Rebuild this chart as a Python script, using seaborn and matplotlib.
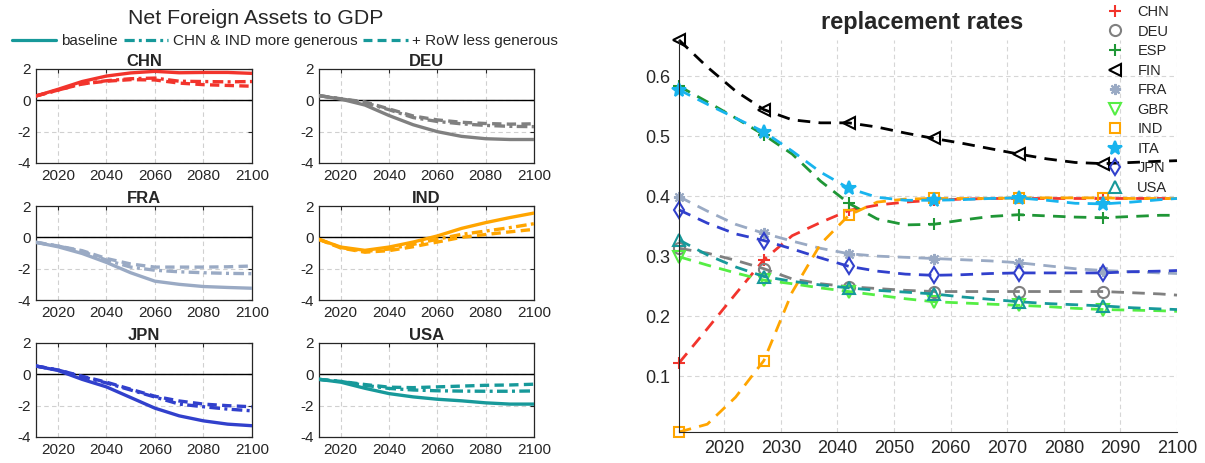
import numpy as np
import pandas as pd
import matplotlib
matplotlib.use("Agg")
import matplotlib.pyplot as plt
from matplotlib.lines import Line2D
import seaborn as sns

sns.set_style("white")
plt.rcParams["font.family"] = ["Liberation Sans", "DejaVu Sans"]
plt.rcParams["axes.edgecolor"] = "#262626"
plt.rcParams["xtick.color"] = "#262626"
plt.rcParams["ytick.color"] = "#262626"
plt.rcParams["axes.unicode_minus"] = False

# ---------------- Net foreign assets to GDP ----------------
nfa_years = [2011, 2020, 2030, 2040, 2050, 2060, 2070, 2080, 2090, 2100]
scenarios = ["baseline", "CHN & IND more generous", "+ RoW less generous"]
nfa_countries = ["CHN", "DEU", "FRA", "IND", "JPN", "USA"]

chn_base = [0.28, 0.70, 1.20, 1.55, 1.75, 1.85, 1.76, 1.78, 1.78, 1.72]
chn_gen = [0.28, 0.65, 1.05, 1.25, 1.38, 1.42, 1.22, 1.20, 1.18, 1.20]
chn_row = [0.28, 0.65, 1.05, 1.22, 1.32, 1.30, 1.10, 1.00, 0.95, 0.90]

deu_base = [0.30, 0.08, -0.30, -0.97, -1.56, -2.00, -2.30, -2.45, -2.50, -2.50]
deu_gen = [0.30, 0.10, -0.15, -0.60, -1.10, -1.35, -1.50, -1.60, -1.66, -1.68]
deu_row = [0.30, 0.10, -0.10, -0.55, -1.00, -1.25, -1.40, -1.48, -1.52, -1.50]

fra_base = [-0.32, -0.60, -1.03, -1.60, -2.26, -2.80, -3.00, -3.14, -3.20, -3.25]
fra_gen = [-0.32, -0.55, -0.90, -1.45, -1.90, -2.10, -2.20, -2.26, -2.30, -2.32]
fra_row = [-0.32, -0.55, -0.85, -1.35, -1.70, -1.90, -1.90, -1.90, -1.88, -1.83]

ind_base = [-0.13, -0.62, -0.83, -0.62, -0.30, 0.09, 0.57, 0.94, 1.26, 1.55]
ind_gen = [-0.13, -0.65, -0.90, -0.75, -0.45, -0.12, 0.19, 0.40, 0.62, 0.87]
ind_row = [-0.13, -0.68, -0.95, -0.85, -0.60, -0.30, 0.00, 0.18, 0.35, 0.51]

jpn_base = [0.53, 0.25, -0.32, -0.80, -1.48, -2.16, -2.65, -2.97, -3.18, -3.28]
jpn_gen = [0.53, 0.28, -0.15, -0.55, -1.00, -1.45, -1.90, -2.07, -2.22, -2.33]
jpn_row = [0.53, 0.28, -0.12, -0.50, -0.95, -1.40, -1.70, -1.90, -2.00, -2.07]

usa_base = [-0.32, -0.50, -0.89, -1.23, -1.44, -1.59, -1.69, -1.82, -1.90, -1.90]
usa_gen = [-0.32, -0.45, -0.70, -0.90, -1.00, -1.05, -1.07, -1.08, -1.08, -1.06]
usa_row = [-0.32, -0.45, -0.65, -0.82, -0.85, -0.80, -0.75, -0.70, -0.68, -0.63]

nfa_series = {
    "CHN": (chn_base, chn_gen, chn_row),
    "DEU": (deu_base, deu_gen, deu_row),
    "FRA": (fra_base, fra_gen, fra_row),
    "IND": (ind_base, ind_gen, ind_row),
    "JPN": (jpn_base, jpn_gen, jpn_row),
    "USA": (usa_base, usa_gen, usa_row),
}

# ---------------- replacement rates ----------------
rr_years = [2012, 2017, 2022, 2027, 2032, 2037, 2042, 2047, 2052, 2057,
            2062, 2067, 2072, 2077, 2082, 2087, 2092, 2097, 2100]
rr_countries = ["CHN", "DEU", "ESP", "FIN", "FRA", "GBR", "IND", "ITA", "JPN", "USA"]

rr_chn = [0.122, 0.179, 0.237, 0.294, 0.334, 0.356, 0.376, 0.385, 0.390, 0.393,
          0.395, 0.396, 0.396, 0.396, 0.396, 0.396, 0.396, 0.396, 0.396]
rr_deu = [0.313, 0.305, 0.293, 0.279, 0.262, 0.254, 0.249, 0.246, 0.243, 0.241,
          0.241, 0.241, 0.241, 0.241, 0.241, 0.241, 0.239, 0.237, 0.235]
rr_esp = [0.583, 0.557, 0.530, 0.502, 0.470, 0.425, 0.388, 0.362, 0.352, 0.353,
          0.360, 0.366, 0.369, 0.367, 0.365, 0.364, 0.366, 0.368, 0.368]
rr_fin = [0.660, 0.615, 0.575, 0.544, 0.527, 0.522, 0.522, 0.515, 0.505, 0.496,
          0.488, 0.479, 0.470, 0.462, 0.456, 0.454, 0.456, 0.458, 0.459]
rr_fra = [0.399, 0.375, 0.353, 0.338, 0.325, 0.313, 0.304, 0.300, 0.298, 0.296,
          0.294, 0.292, 0.289, 0.284, 0.279, 0.276, 0.274, 0.272, 0.271]
rr_gbr = [0.299, 0.285, 0.272, 0.260, 0.254, 0.247, 0.241, 0.235, 0.229, 0.224,
          0.222, 0.220, 0.218, 0.216, 0.213, 0.211, 0.210, 0.209, 0.208]
rr_ind = [0.007, 0.020, 0.065, 0.126, 0.240, 0.320, 0.368, 0.390, 0.395, 0.396,
          0.396, 0.396, 0.397, 0.397, 0.397, 0.397, 0.396, 0.396, 0.396]
rr_ita = [0.577, 0.553, 0.530, 0.507, 0.475, 0.440, 0.413, 0.398, 0.393, 0.393,
          0.394, 0.396, 0.397, 0.393, 0.388, 0.387, 0.390, 0.394, 0.396]
rr_jpn = [0.377, 0.355, 0.337, 0.326, 0.312, 0.297, 0.283, 0.275, 0.270, 0.268,
          0.269, 0.271, 0.272, 0.272, 0.272, 0.272, 0.274, 0.275, 0.276]
rr_usa = [0.327, 0.302, 0.282, 0.266, 0.258, 0.252, 0.247, 0.243, 0.240, 0.237,
          0.232, 0.228, 0.224, 0.221, 0.219, 0.217, 0.214, 0.212, 0.211]

rr_series = {"CHN": rr_chn, "DEU": rr_deu, "ESP": rr_esp, "FIN": rr_fin, "FRA": rr_fra,
             "GBR": rr_gbr, "IND": rr_ind, "ITA": rr_ita, "JPN": rr_jpn, "USA": rr_usa}

colors = {"CHN": "#f2342c", "DEU": "#808080", "ESP": "#1f9636", "FIN": "#000000",
          "FRA": "#9aaac4", "GBR": "#55ee44", "IND": "#ffa500", "ITA": "#18b4ee",
          "JPN": "#3140cc", "USA": "#17999a"}
markers = {"CHN": "+", "DEU": "o", "ESP": "+", "FIN": "<", "FRA": (8, 2, 0),
           "GBR": "v", "IND": "s", "ITA": "*", "JPN": "d", "USA": "^"}
marker_sizes = {"CHN": 9, "DEU": 8, "ESP": 9, "FIN": 8, "FRA": 8,
                "GBR": 8, "IND": 7, "ITA": 10, "JPN": 8, "USA": 8}
filled = {"ITA"}

scenario_dashes = {"baseline": "", "CHN & IND more generous": (3.2, 1.3, 0.9, 1.3),
                   "+ RoW less generous": (2.8, 1.6)}

W, H = 1205, 463
fig = plt.figure(figsize=(W / 100, H / 100), dpi=100)


def frac_box(left, top, right, bottom):
    return [left / W, 1 - bottom / H, (right - left) / W, (bottom - top) / H]


col_x = [(36, 252), (319, 534)]
row_y = [(69, 163), (206, 300), (343, 437)]

for i, country in enumerate(nfa_countries):
    r, c = divmod(i, 2)
    ax = fig.add_axes(frac_box(col_x[c][0], row_y[r][0], col_x[c][1], row_y[r][1]))
    frames = []
    for scen, vals in zip(scenarios, nfa_series[country]):
        frames.append(pd.DataFrame({"year": nfa_years, "value": vals, "scenario": scen}))
    df = pd.concat(frames, ignore_index=True)
    ax.axhline(0, color="black", lw=1.0, zorder=1)
    sns.lineplot(data=df, x="year", y="value", style="scenario", dashes=scenario_dashes,
                 color=colors[country], linewidth=2.4, legend=False, ax=ax, zorder=3)
    ax.set_xlim(2011, 2100)
    ax.set_ylim(-4, 2)
    ax.set_xticks([2020, 2040, 2060, 2080, 2100])
    ax.set_yticks([-4, -2, 0, 2])
    ax.grid(True, color="#d0d0d0", linestyle=(0, (4, 3)), linewidth=0.8)
    ax.set_axisbelow(True)
    ax.tick_params(direction="in", labelsize=11, length=3, pad=4, top=True, right=True,
                   labeltop=False, labelright=False)
    ax.set_xlabel("")
    ax.set_ylabel("")
    ax.set_title(country, fontsize=12, fontweight="bold", pad=2)
    for sp in ax.spines.values():
        sp.set_linewidth(0.9)

fig.text(0.2125, 1 - 18 / H, "Net Foreign Assets to GDP", ha="center", va="center",
         fontsize=15.3)
scen_handles = [Line2D([], [], color="#17999a", lw=2.3,
                       linestyle=("solid" if d == "" else (0, d)))
                for d in scenario_dashes.values()]
fig.legend(scen_handles, scenarios, loc="center", bbox_to_anchor=(285 / W, 1 - 41 / H),
           ncol=3, frameon=False, fontsize=11, handlelength=2.9, handletextpad=0.3,
           columnspacing=0.4, borderpad=0, borderaxespad=0)

# replacement rates panel
ax = fig.add_axes(frac_box(679, 40, 1177, 432))
all_rr = np.concatenate([rr_series[k] for k in rr_countries])
for country in rr_countries:
    col = colors[country]
    df = pd.DataFrame({"year": rr_years, "rate": rr_series[country]})
    sns.lineplot(data=df, x="year", y="rate", color=col, linewidth=2.0,
                 linestyle=(0, (4.5, 3)), marker=markers[country],
                 markevery=[0, 3, 6, 9, 12, 15], markersize=marker_sizes[country],
                 markerfacecolor=(col if country in filled else "none"),
                 markeredgecolor=col, markeredgewidth=1.5, ax=ax, legend=False,
                 clip_on=False)
ax.set_xlim(2012, 2100)
ax.set_ylim(all_rr.min(), all_rr.max())
ax.set_xticks(range(2020, 2101, 10))
ax.set_yticks([0.1, 0.2, 0.3, 0.4, 0.5, 0.6])
ax.set_yticklabels(["0.1", "0.2", "0.3", "0.4", "0.5", "0.6"])
ax.grid(True, color="#d6d6d6", linestyle=(0, (4, 3)), linewidth=0.8)
ax.set_axisbelow(True)
ax.tick_params(direction="in", labelsize=13, length=4, pad=6)
ax.set_xlabel("")
ax.set_ylabel("")
ax.spines["top"].set_visible(False)
ax.spines["right"].set_visible(False)
fig.text(922 / W, 1 - 23 / H, "replacement rates", ha="center", va="center",
         fontsize=17, fontweight="bold")

rr_handles = [Line2D([], [], linestyle="none", marker=markers[k],
                     markersize=marker_sizes[k], color=colors[k],
                     markeredgecolor=colors[k], markeredgewidth=1.5,
                     markerfacecolor=(colors[k] if k in filled else "none"))
              for k in rr_countries]
fig.legend(rr_handles, rr_countries, loc="upper left", bbox_to_anchor=(1106 / W, 1 - 5 / H),
           frameon=False, fontsize=10.5, handlelength=1.2, handletextpad=0.95,
           labelspacing=0.38, borderpad=0, borderaxespad=0)

fig.savefig("out.png", dpi=100)
